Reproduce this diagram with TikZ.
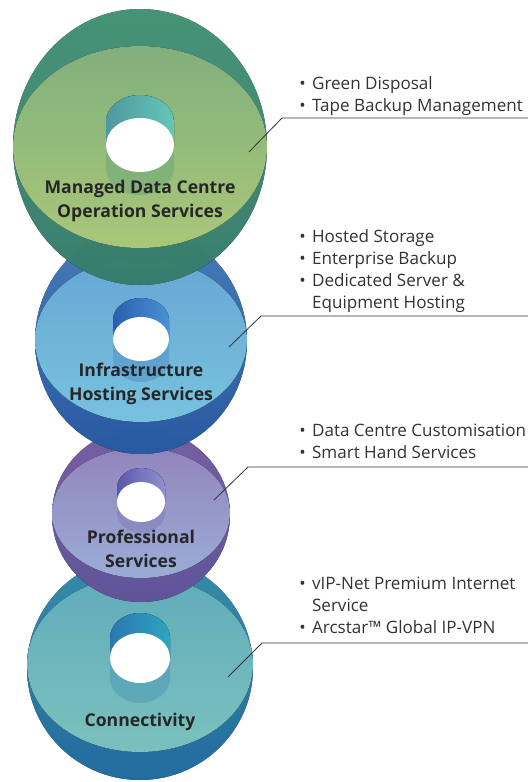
\documentclass[tikz,border=0pt]{standalone}
\usepackage{fontspec}
\setmainfont{Open Sans}
\usepackage{tikz}
\usetikzlibrary{calc}
\definecolor{gside1}{HTML}{4CA384}\definecolor{gside2}{HTML}{3E8C7A}
\definecolor{gface1}{HTML}{88B984}\definecolor{gface2}{HTML}{B3D27F}
\definecolor{gtube1}{HTML}{4F98A0}\definecolor{gtube2}{HTML}{66C6B6}
\definecolor{bside1}{HTML}{4C86C8}\definecolor{bside2}{HTML}{2B62B2}
\definecolor{bface1}{HTML}{6CB0E0}\definecolor{bface2}{HTML}{80CDEA}
\definecolor{btube1}{HTML}{2A5EB0}\definecolor{btube2}{HTML}{4A92D4}
\definecolor{pside1}{HTML}{8068B0}\definecolor{pside2}{HTML}{6A5CA8}
\definecolor{pface1}{HTML}{9B8CC6}\definecolor{pface2}{HTML}{A2B6E2}
\definecolor{ptube1}{HTML}{5A58A8}\definecolor{ptube2}{HTML}{9090D0}
\definecolor{tside1}{HTML}{3A9AB8}\definecolor{tside2}{HTML}{2576AE}
\definecolor{tface1}{HTML}{66B6C4}\definecolor{tface2}{HTML}{82CBC8}
\definecolor{ttube1}{HTML}{2A78B0}\definecolor{ttube2}{HTML}{30A4C0}
\definecolor{inkgray}{HTML}{333333}
\def\itm{•\hspace{4.8pt}}
\def\tube[#1](#2,#3)(#4:#5)(#6:#7){%
	\fill[#1tube] ({#2-#4},#6) -- ({#2-#4},#3) arc[start angle=180, end angle=360, x radius=#4, y radius=#5] -- ({#2+#4},#6) -- cycle;
	\fill[#1shade] ({#2-#4},#6) -- ({#2-#4},#7) arc[start angle=180, end angle=0, x radius=#4, y radius=#5] -- ({#2+#4},#6) -- cycle;
	\fill[white] (#2,#6) ellipse [x radius=#4, y radius=#5];}
\tikzset{
	greenside/.style={top color=gside1, bottom color=gside2, fill opacity=0.88},
	greenface/.style={top color=gface1, bottom color=gface2, fill opacity=0.95},
	greentube/.style={left color=gtube1, right color=gtube2},
	greenshade/.style={fill=gside2, fill opacity=0.25},
	blueside/.style={top color=bside1, bottom color=bside2, fill opacity=0.9},
	blueface/.style={top color=bface1, bottom color=bface2, fill opacity=0.95},
	bluetube/.style={left color=btube1, right color=btube2},
	blueshade/.style={fill=bside2, fill opacity=0.25},
	purpleside/.style={top color=pside1, bottom color=pside2, fill opacity=0.9},
	purpleface/.style={top color=pface1, bottom color=pface2, fill opacity=0.95},
	purpletube/.style={left color=ptube1, right color=ptube2},
	purpleshade/.style={fill=pside2, fill opacity=0.25},
	tealside/.style={top color=tside1, bottom color=tside2, fill opacity=0.9},
	tealface/.style={top color=tface1, bottom color=tface2, fill opacity=0.95},
	tealtube/.style={left color=ttube1, right color=ttube2},
	tealshade/.style={fill=tside2, fill opacity=0.25},
	disclabel/.style={font=\bfseries\fontsize{13.2}{18}\selectfont, align=center, text=black!85, inner sep=0pt},
	svclist/.style={font=\fontsize{12.8}{16.5}\selectfont, align=left, text=inkgray, anchor=north west, inner sep=0pt},
	leader/.style={draw=inkgray, line width=0.6pt}
}
\begin{document}
\begin{tikzpicture}[x=0.75pt, y=-0.75pt]
		%%%%% START %%%%%
		\useasboundingbox (0, 0) rectangle (528, 782);
		
		% Connectivity
		\fill[tealside] (140, 668) ellipse [x radius=113, y radius=112];
		\fill[tealface] (140, 664) ellipse [x radius=113, y radius=88];
		\tube[teal](140, 638)(30:25)(658:678);
		\node[disclabel] (lblconnect) at (140, 722) {Connectivity};
		
		% Professional Services
		\fill[purpleside] (141, 515) ellipse [x radius=89, y radius=87];
		\fill[purpleface] (141, 513) ellipse [x radius=89, y radius=65];
		\tube[purple](141, 488)(24:20)(502:513);
		\node[disclabel] (lblprof) at (141, 549) {Professional\\Services};
		
		% Infrastructure Hosting Services
		\fill[blueside] (141, 341) ellipse [x radius=106, y radius=113];
		\fill[blueface] (141, 340) ellipse [x radius=106, y radius=82];
		\tube[blue](141, 320)(28:22)(339:360);
		\node[disclabel] (lblinfra) at (141, 384) {Infrastructure\\Hosting Services};
		
		% Managed Data Centre Operation Services
		\fill[greenside] (140, 147) ellipse [x radius=127, y radius=138];
		\fill[greenface] (140, 147) ellipse [x radius=127, y radius=101];
		\tube[green](140, 122)(34:27)(145:168);
		\node[disclabel] (lblmanaged) at (140, 201) {Managed Data Centre\\Operation Services};
		
		% service lists
		\node[svclist] (listmanaged) at (299, 76) {\itm Green Disposal\\\itm Tape Backup Management};
		\node[svclist] (listinfra) at (299, 229) {\itm Hosted Storage\\\itm Enterprise Backup\\\itm Dedicated Server \&\\\hphantom{\itm}Equipment Hosting};
		\node[svclist] (listprof) at (299, 424) {\itm Data Centre Customisation\\\itm Smart Hand Services};
		\node[svclist] (listconnect) at (299, 577) {\itm vIP-Net Premium Internet\\\hphantom{\itm}Service\\\itm Arcstar™ Global IP-VPN};
		
		% leaders
		\coordinate (tipmanaged) at (249, 152);
		\coordinate (kneemanaged) at (282, 118);
		\coordinate (endmanaged) at (528, 118);
		\draw[leader] (tipmanaged) -- (kneemanaged) -- (endmanaged);
		
		\coordinate (tipinfra) at (229, 347);
		\coordinate (kneeinfra) at (261, 316);
		\coordinate (endinfra) at (528, 316);
		\draw[leader] (tipinfra) -- (kneeinfra) -- (endinfra);
		
		\coordinate (tipprof) at (214, 500);
		\coordinate (kneeprof) at (248, 467);
		\coordinate (endprof) at (528, 467);
		\draw[leader] (tipprof) -- (kneeprof) -- (endprof);
		
		\coordinate (tipconnect) at (228, 677);
		\coordinate (kneeconnect) at (262, 643);
		\coordinate (endconnect) at (528, 643);
		\draw[leader] (tipconnect) -- (kneeconnect) -- (endconnect);
		
		%%%%% END %%%%%
	\end{tikzpicture}
\end{document}
